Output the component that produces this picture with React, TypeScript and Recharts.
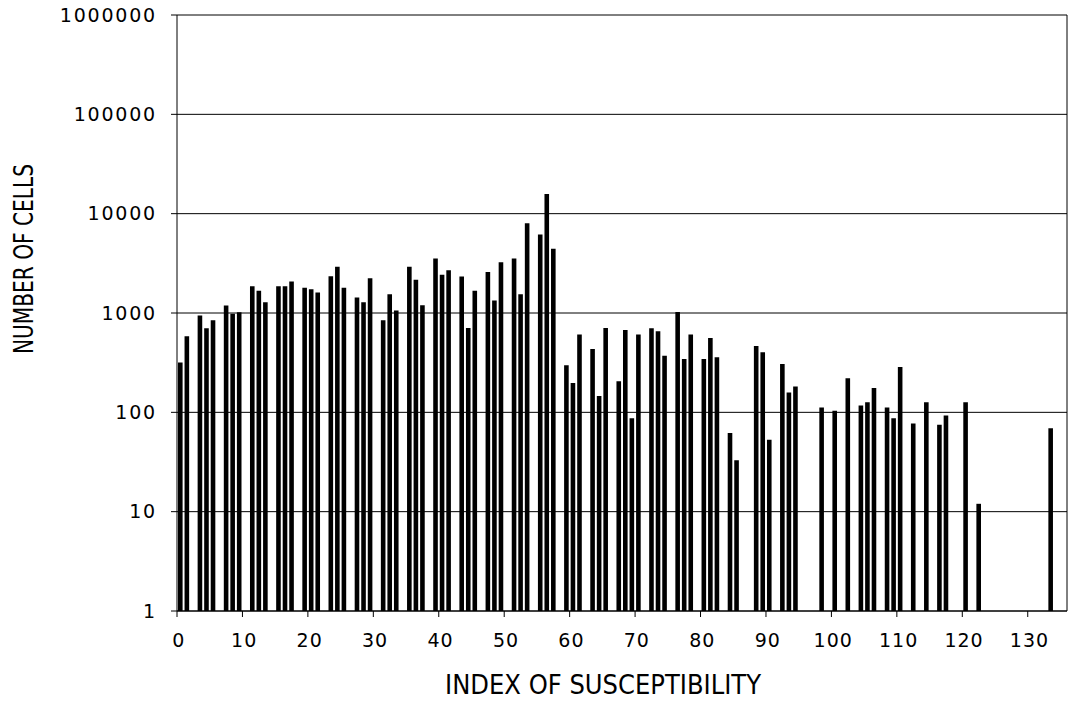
import React from 'react'
import { BarChart, Bar, XAxis, YAxis, CartesianGrid, Label } from 'recharts'

// number of cells for susceptibility index 0..135 (null = no bar)
const cellCounts: (number | null)[] = [
  318, 583, null, 942, 701, 845, null, 1188, 980, 1020,
  null, 1858, 1671, 1283, null, 1858, 1858, 2074, null, 1791,
  1734, 1606, null, 2344, 2915, 1791, null, 1429, 1283, 2238,
  null, 845, 1544, 1057, null, 2915, 2158, 1196, null, 3534,
  2422, 2698, null, 2328, 708, 1671, null, 2594, 1334, 3243,
  null, 3534, 1544, 8020, null, 6170, 15730, 4428, null, 297,
  197, 606, null, 435, 146, 705, null, 205, 675, 87,
  606, null, 701, 654, 372, null, 1026, 345, 606, null,
  345, 561, 358, null, 62, 33, null, null, 466, 402,
  53, null, 307, 158, 182, null, null, null, 112, null,
  104, null, 220, null, 117, 126, 176, null, 112, 87,
  286, null, 77, null, 126, null, 75, 93, null, null,
  126, null, 12, null, null, null, null, null, null, null,
  null, null, null, 69, null, null
]

const yTicks = [1, 10, 100, 1000, 10000, 100000, 1000000]

const data = cellCounts.map((cells, index) => ({ index, cells }))

const tickFont = "'DejaVu Sans', sans-serif"
const titleFont = "'Liberation Sans Narrow', 'DejaVu Sans Condensed', sans-serif"

const XTick = (props: any) => {
  const { x, y, payload } = props
  const half = payload.offset ?? 3.27
  return (
    <g>
      <line x1={x - half} y1={y - 8} x2={x - half} y2={y - 2} stroke="#000" strokeWidth={1} />
      <text x={x - 1.5} y={y + 28} textAnchor="middle" fontFamily={tickFont} fontSize={19} letterSpacing={1} fill="#000">
        {payload.value}
      </text>
    </g>
  )
}

export default function App() {
  return (
    <div style={{ position: 'absolute', left: 0, top: 0, width: 1070, height: 704, background: '#fff' }}>
      <BarChart
        width={1070}
        height={704}
        data={data}
        margin={{ top: 15, right: 0, bottom: 0, left: 0 }}
        barSize={4.6}
      >
        <CartesianGrid vertical={false} stroke="#000" strokeWidth={1} yAxisId="left" />
        <XAxis
          dataKey="index"
          interval={9}
          height={93}
          axisLine={{ stroke: '#000' }}
          tickLine={false}
          tick={<XTick />}
        >
          <Label
            content={() => (
              <text
                x={603}
                y={694}
                textAnchor="middle"
                fontFamily={titleFont}
                fontSize={26}
                textLength={316}
                lengthAdjust="spacingAndGlyphs"
                fill="#000"
              >
                INDEX OF SUSCEPTIBILITY
              </text>
            )}
          />
        </XAxis>
        <YAxis
          yAxisId="left"
          width={177}
          scale="log"
          type="number"
          domain={[1, 1000000]}
          ticks={yTicks}
          allowDataOverflow
          axisLine={{ stroke: '#000' }}
          tickLine={{ stroke: '#000' }}
          tickSize={6}
          tickMargin={14}
          tick={{ fill: '#000', fontSize: 19, fontFamily: tickFont, letterSpacing: 1.8 }}
        >
          <Label
            content={() => (
              <text
                x={33}
                y={259}
                textAnchor="middle"
                transform="rotate(-90, 33, 259)"
                fontFamily={titleFont}
                fontSize={27}
                textLength={190}
                lengthAdjust="spacingAndGlyphs"
                fill="#000"
              >
                NUMBER OF CELLS
              </text>
            )}
          />
        </YAxis>
        <YAxis
          yAxisId="right"
          orientation="right"
          width={3}
          tick={false}
          tickLine={false}
          axisLine={{ stroke: '#000' }}
        />
        <Bar yAxisId="left" dataKey="cells" fill="#000" isAnimationActive={false} />
      </BarChart>
    </div>
  )
}
